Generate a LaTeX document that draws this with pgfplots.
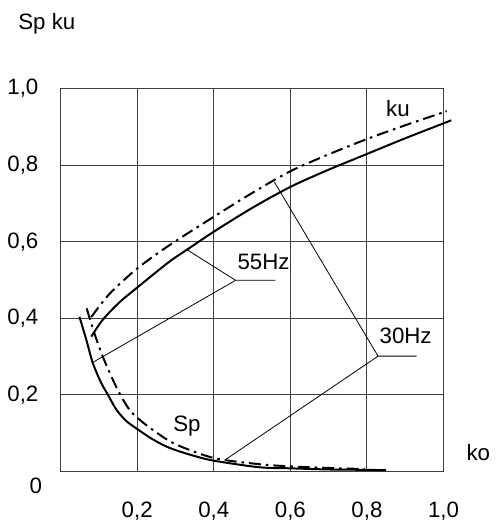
\documentclass[border=0pt]{standalone}
\usepackage{fontspec}
\setmainfont{Liberation Sans}
\usepackage{pgfplots}
\pgfplotsset{compat=1.18}
\begin{document}
\begin{tikzpicture}
\def\fs{\fontsize{11.2}{13}\selectfont}
\begin{axis}[
  scale only axis, width=192.5pt, height=192.5pt,
  xmin=0, xmax=1, ymin=0, ymax=1,
  clip=false,
  axis line style={black!75, line width=0.5pt},
  grid=major, grid style={black!75, line width=0.5pt},
  xtick={0.2,0.4,0.6,0.8,1.0}, ytick={0.2,0.4,0.6,0.8,1.0},
  major tick length=0pt,
  tick style={draw=none},
  /pgf/number format/.cd, use comma, fixed, fixed zerofill, precision=1, assume math mode=true,
  /pgfplots/.cd,
  every tick label/.append style={font=\fs},
  xticklabel style={anchor=center, yshift=-20pt},
  yticklabel style={anchor=center, xshift=-19pt},
  dashdot/.style={black, line width=1pt, dash pattern=on 6pt off 2.5pt on 1.3pt off 2.5pt},
  solidc/.style={black, line width=1pt},
  callout/.style={black, line width=0.4pt},
]
% ku solid
\addplot[solidc, smooth] coordinates {(0.080,0.352)(0.110,0.396)(0.153,0.441)(0.201,0.481)(0.283,0.547)(0.330,0.579)(0.400,0.626)(0.500,0.688)(0.600,0.743)(0.700,0.788)(0.800,0.829)(0.900,0.870)(1.000,0.909)(1.020,0.917)};
% ku dash-dot
\addplot[dashdot, smooth] coordinates {(0.080,0.403)(0.127,0.463)(0.200,0.530)(0.283,0.590)(0.400,0.665)(0.500,0.727)(0.600,0.784)(0.700,0.828)(0.800,0.868)(0.900,0.904)(1.000,0.938)(1.005,0.940)};
% Sp solid
\addplot[solidc, smooth] coordinates {(0.049,0.404)(0.067,0.344)(0.084,0.283)(0.106,0.231)(0.123,0.201)(0.145,0.162)(0.171,0.132)(0.201,0.110)(0.240,0.084)(0.283,0.062)(0.340,0.043)(0.400,0.028)(0.517,0.011)(0.600,0.008)(0.700,0.005)(0.800,0.004)(0.850,0.003)};
% Sp dash-dot
\addplot[dashdot, smooth] coordinates {(0.068,0.426)(0.088,0.361)(0.110,0.300)(0.132,0.249)(0.153,0.205)(0.179,0.162)(0.205,0.136)(0.244,0.106)(0.300,0.071)(0.400,0.035)(0.517,0.019)(0.600,0.013)(0.700,0.009)(0.795,0.006)};
% callouts 55Hz
\addplot[callout] coordinates {(0.330,0.579)(0.457,0.499)(0.561,0.499)};
\addplot[callout] coordinates {(0.081,0.283)(0.457,0.499)};
% callouts 30Hz
\addplot[callout] coordinates {(0.558,0.756)(0.829,0.301)(0.930,0.301)};
\addplot[callout] coordinates {(0.431,0.031)(0.829,0.301)};
\node[font=\fs] at (axis cs:0.530,0.548) {55Hz};
\node[font=\fs] at (axis cs:0.901,0.353) {30Hz};
\node[font=\fs] at (axis cs:0.881,0.948) {ku};
\node[font=\fs] at (axis cs:0.330,0.119) {Sp};
\node[font=\fs] at (axis cs:1.091,0.049) {ko};
\node[font=\fs] at (axis cs:-0.036,1.169) {Sp ku};
\node[font=\fs] at (axis cs:-0.065,-0.039) {0};
\path (axis cs:-0.1584,-0.1377) rectangle (axis cs:1.1325,1.2312);
\end{axis}
\end{tikzpicture}
\end{document}
